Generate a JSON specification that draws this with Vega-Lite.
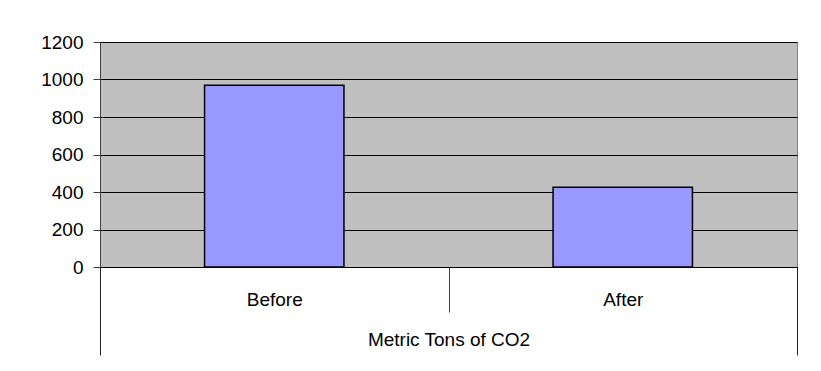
{
  "$schema": "https://vega.github.io/schema/vega-lite/v6.json",
  "width": 697,
  "height": 225,
  "autosize": {"type": "none"},
  "padding": {"left": 100, "top": 42, "right": 24, "bottom": 104},
  "background": "white",
  "config": {
    "font": "Liberation Sans",
    "view": {"fill": "#C0C0C0", "stroke": "#808080", "strokeWidth": 1}
  },
  "layer": [
    {
      "data": {"values": [{"period": "Before", "tons": 970}, {"period": "After", "tons": 425}]},
      "mark": {"type": "bar", "width": {"band": 0.4}, "fill": "#9999FF", "stroke": "#000000", "strokeWidth": 1.5},
      "encoding": {
        "x": {
          "field": "period", "type": "nominal", "sort": ["Before", "After"],
          "scale": {"paddingInner": 0, "paddingOuter": 0},
          "axis": {"orient": "bottom", "title": null, "labelAngle": 0, "labelFontSize": 19, "labelColor": "#000000",
                   "tickBand": "extent", "tickSize": 45, "tickColor": "#404040", "labelPadding": -22,
                   "domainColor": "#000000", "grid": false}
        },
        "y": {
          "field": "tons", "type": "quantitative", "scale": {"domain": [0, 1200]},
          "axis": {"title": null, "values": [0, 200, 400, 600, 800, 1000, 1200], "format": "d", "labelFontSize": 19, "labelColor": "#000000",
                   "tickSize": 7, "tickColor": "#404040", "labelPadding": 10, "domainColor": "#404040",
                   "grid": true, "gridColor": "#000000", "gridOpacity": 1}
        }
      }
    },
    {
      "data": {"values": [{"group": "Metric Tons of CO2"}]},
      "mark": {"type": "rule", "opacity": 0},
      "encoding": {
        "x": {
          "field": "group", "type": "nominal",
          "scale": {"paddingInner": 0, "paddingOuter": 0},
          "axis": {"orient": "bottom", "title": null, "labelAngle": 0, "labelFontSize": 19, "labelColor": "#000000",
                   "tickBand": "extent", "tickSize": 88, "tickColor": "#202020", "labelPadding": -25, "domain": false}
        }
      }
    }
  ],
  "resolve": {"scale": {"x": "independent"}, "axis": {"x": "independent"}}
}
